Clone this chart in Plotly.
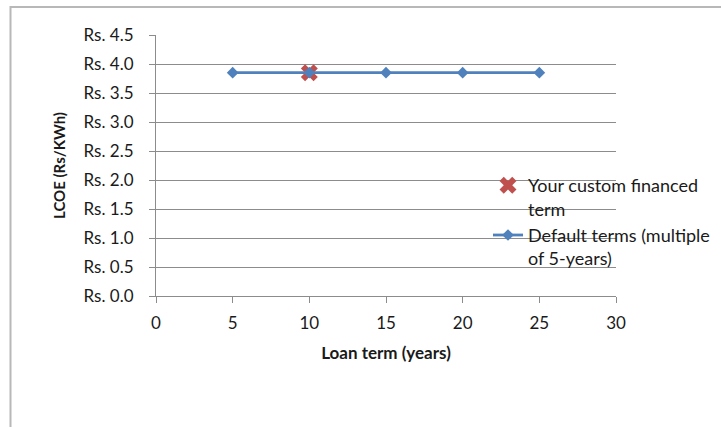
import plotly.graph_objects as go

# ---- data ----
default_terms = [5, 10, 15, 20, 25]
default_lcoe = [3.85, 3.85, 3.85, 3.85, 3.85]
custom_term = [10]
custom_lcoe = [3.85]

y_tickvals = [0.0, 0.5, 1.0, 1.5, 2.0, 2.5, 3.0, 3.5, 4.0, 4.5]
y_ticktext = ["Rs. 0.0", "Rs. 0.5", "Rs. 1.0", "Rs. 1.5", "Rs. 2.0",
              "Rs. 2.5", "Rs. 3.0", "Rs. 3.5", "Rs. 4.0", "Rs. 4.5"]
x_tickvals = [0, 5, 10, 15, 20, 25, 30]

series_names = ["Your custom financed<br>term", "Default terms (multiple<br>of 5-years)"]
x_title = "Loan term (years)"
y_title = "LCOE (Rs/KWh)"

W, H = 721, 427
L, R, T, B = 156, 105, 35, 131
PW, PH = W - L - R, H - T - B

def px(x):
    return (x - L) / PW

def py(y):
    return (H - B - y) / PH

FONT = "Lato, 'Open Sans', sans-serif"
GRID = "#8c8c8c"

fig = go.Figure()
fig.add_trace(go.Scatter(
    x=custom_term, y=custom_lcoe, name=series_names[0], mode="markers",
    marker=dict(symbol="x", size=15, color="#C0504D", line=dict(width=0)),
))
fig.add_trace(go.Scatter(
    x=default_terms, y=default_lcoe, name=series_names[1], mode="lines+markers",
    line=dict(color="#4F81BD", width=2.8),
    marker=dict(symbol="diamond", size=9, color="#4F81BD"),
))

fig.update_layout(
    width=W, height=H,
    margin=dict(l=L, r=R, t=T, b=B, pad=0, autoexpand=False),
    paper_bgcolor="white", plot_bgcolor="white",
    font=dict(family=FONT, color="#1a1a1a", size=17),
    showlegend=True,
    legend=dict(x=px(488), y=py(167), xanchor="left", yanchor="top",
                bgcolor="rgba(0,0,0,0)", font=dict(size=18, family=FONT),
                valign="top", tracegroupgap=5, itemwidth=30),
    xaxis=dict(range=[0, 30], tickvals=x_tickvals, showgrid=False,
               showline=True, linecolor=GRID, linewidth=1,
               ticks="outside", ticklen=6, tickcolor=GRID,
               tickfont=dict(size=17), ticklabelstandoff=6,
               zeroline=False, automargin=False,
               title=dict(text="<b>" + x_title + "</b>", font=dict(size=17), standoff=14)),
    yaxis=dict(range=[0, 4.5], tickvals=y_tickvals, ticktext=y_ticktext,
               showgrid=True, gridcolor=GRID, gridwidth=1,
               showline=True, linecolor=GRID, linewidth=1,
               ticks="outside", ticklen=6, tickcolor=GRID,
               tickfont=dict(size=17), ticklabelstandoff=12,
               zeroline=False, automargin=False,
               title=dict(text="<b>" + y_title + "</b>", font=dict(size=15), standoff=14)),
)

# outer frame of the embedded chart (top and left edges)
fig.add_shape(type="path", xref="paper", yref="paper",
              path=f"M {px(10.5)} {py(432)} L {px(10.5)} {py(7)} L {px(725)} {py(7)}",
              line=dict(color="#b8b8b8", width=2))

# cut-off heading glyph at the top edge
fig.add_annotation(text="y", xref="paper", yref="paper", x=px(452), y=py(-9),
                   xanchor="center", yanchor="bottom", showarrow=False,
                   font=dict(family="Liberation Serif", size=16, color="black"))

fig.write_html("out.html", config={"displayModeBar": False},
               post_script="document.body.style.margin='0';document.body.style.overflow='hidden';")
